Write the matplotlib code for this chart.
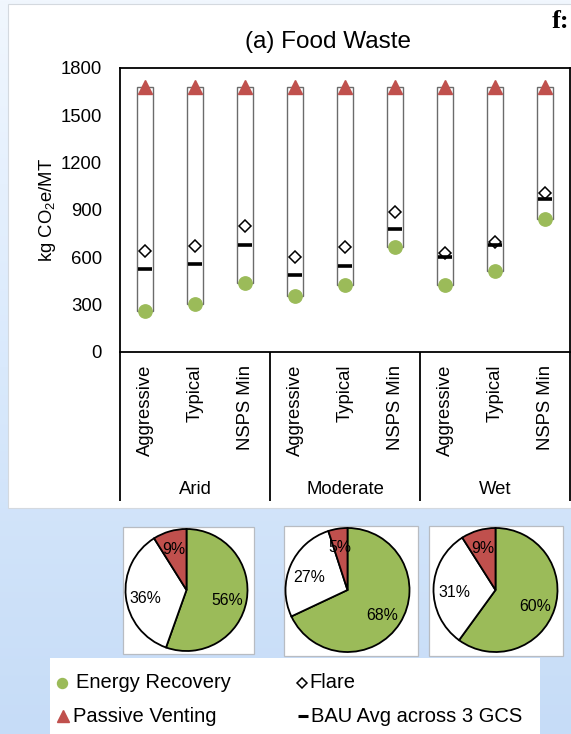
import numpy as np
import matplotlib
matplotlib.use("Agg")
import matplotlib.pyplot as plt
from matplotlib.patches import Rectangle
from matplotlib.colors import LinearSegmentedColormap
from matplotlib.transforms import blended_transform_factory

plt.rcParams['font.family'] = ['Liberation Sans', 'DejaVu Sans']
plt.rcParams['mathtext.fontset'] = 'custom'
plt.rcParams['mathtext.rm'] = 'Liberation Sans'
plt.rcParams['mathtext.it'] = 'Liberation Sans:italic'

# ---- data -------------------------------------------------------------
scenarios = ["Aggressive", "Typical", "NSPS Min"] * 3
climates = ["Arid", "Moderate", "Wet"]
energy_recovery = [260, 305, 440, 355, 425, 665, 425, 515, 845]
flare = [640, 675, 800, 605, 665, 885, 630, 700, 1005]
passive_venting = [1680, 1680, 1680, 1680, 1680, 1680, 1680, 1680, 1680]
bau_avg = [525, 560, 680, 485, 545, 780, 600, 678, 968]
y_ticks = [0, 300, 600, 900, 1200, 1500, 1800]

# share of gas-collection outcome per climate: energy recovery, flare, venting
pie_arid = [56, 36, 9]
pie_moderate = [68, 27, 5]
pie_wet = [60, 31, 9]

GREEN = '#9BBB59'
RED = '#C0504D'

W, H = 571, 734
fig = plt.figure(figsize=(W / 100, H / 100), dpi=100)


def fbox(x0, y0, x1, y1):
    """Pixel box (top-left origin) -> figure rect."""
    return [x0 / W, 1 - y1 / H, (x1 - x0) / W, (y1 - y0) / H]


# ---- background: soft blue gradient with white panels -------------------
bg = fig.add_axes([0, 0, 1, 1])
bg.set_xlim(0, W)
bg.set_ylim(H, 0)
bg.axis('off')
grad = LinearSegmentedColormap.from_list('bgblue', ['#f1f7fe', '#d9e9fc', '#c6dcf7'])
bg.imshow(np.linspace(0, 1, 256).reshape(-1, 1), cmap=grad, aspect='auto',
          extent=(0, W, H, 0), zorder=0)
bg.add_patch(Rectangle((8, 4), W - 8, 504, facecolor='white',
                       edgecolor='#d4d9df', lw=0.8, zorder=1))
for (x0, y0, x1, y1) in [(122.5, 527, 253.5, 654), (283.5, 526, 417.5, 656),
                         (428.5, 526, 562.5, 656)]:
    bg.add_patch(Rectangle((x0, y0), x1 - x0, y1 - y0, facecolor='white',
                           edgecolor='#b8bcc2', lw=0.9, zorder=1))
bg.add_patch(Rectangle((50, 658), 490, 90, facecolor='white',
                       edgecolor='none', zorder=1))

# ---- main range chart --------------------------------------------------
ax = fig.add_axes(fbox(120, 68, 570, 352))
x = np.arange(len(scenarios))
er = np.array(energy_recovery)
pv = np.array(passive_venting)

ax.bar(x, pv - er, bottom=er, width=0.33, color='white',
       edgecolor='#6b6b6b', linewidth=1.0, zorder=2)
ax.plot(x, flare, ls='none', marker='D', ms=6.2, mfc='white', mec='black',
        mew=1.1, zorder=3)
ax.plot(x, bau_avg, ls='none', marker='_', ms=9.4, mew=2.6, color='black',
        zorder=4)
ax.plot(x, energy_recovery, ls='none', marker='o', ms=9.6, color=GREEN,
        zorder=5)
ax.plot(x, passive_venting, ls='none', marker='^', ms=9.6, color=RED,
        zorder=5, clip_on=False)

ax.set_xlim(-0.5, len(scenarios) - 0.5)
ax.set_ylim(0, 1800)
ax.set_yticks(y_ticks)
ax.tick_params(axis='y', length=0, pad=13, labelsize=13.3)
ax.set_xticks(x)
ax.set_xticklabels(scenarios, rotation=90, fontsize=13.3)
ax.tick_params(axis='x', length=0, pad=9)
for s in ax.spines.values():
    s.set_linewidth(1.3)
ax.set_ylabel("kg CO$_2$e/MT", fontsize=13.3, labelpad=2)

# category / climate grid below the axis
trans = blended_transform_factory(ax.transData, ax.transAxes)
y_low = -(501 - 352) / 284
for xs in [-0.5, 2.5, 5.5, 8.5]:
    ax.plot([xs, xs], [0, y_low], transform=trans, color='black', lw=1.3,
            clip_on=False, solid_capstyle='butt')
for i, name in enumerate(climates):
    ax.text(3 * i + 1, -(490 - 352) / 284, name, transform=trans,
            ha='center', va='center', fontsize=13.3)

fig.text(328 / W, 1 - 42 / H, "(a) Food Waste", ha='center', va='center',
         fontsize=17.5)
fig.text(552 / W, 1 - 28 / H, "f:", ha='left', va='baseline',
         family='Liberation Serif', fontsize=19, weight='bold')

# ---- pie charts ---------------------------------------------------------
pie_centres = [(186.5, 590, 61), (347.5, 590, 62), (495.5, 590, 62)]
for shares, (cx, cy, r) in zip([pie_arid, pie_moderate, pie_wet], pie_centres):
    rr = r * 1.03
    pax = fig.add_axes(fbox(cx - rr, cy - rr, cx + rr, cy + rr))
    wedges, _ = pax.pie(shares, colors=[GREEN, 'white', RED], startangle=90,
                        counterclock=False,
                        wedgeprops=dict(edgecolor='black', linewidth=1.3))
    pax.set_xlim(-1.03, 1.03)
    pax.set_ylim(-1.03, 1.03)
    pax.set_aspect('equal')
    for w, v in zip(wedges, shares):
        theta = np.deg2rad((w.theta1 + w.theta2) / 2)
        d = 0.76 if v < 10 else 0.67
        pax.text(d * np.cos(theta), d * np.sin(theta) - 0.06, f"{v}%",
                 ha='center', va='center', fontsize=11.4)

# ---- legend -------------------------------------------------------------
leg_fs = 14.5
row1, row2 = 683, 716
bg.plot(62, row1, ls='none', marker='o', ms=7.2, color=GREEN, zorder=3)
bg.text(76, row1, "Energy Recovery", va='center', fontsize=leg_fs, zorder=3)
bg.plot(62.5, row2, ls='none', marker='^', ms=8.2, color=RED, zorder=3)
bg.text(73, row2, "Passive Venting", va='center', fontsize=leg_fs, zorder=3)
bg.plot(302, row1, ls='none', marker='D', ms=5.2, mfc='white', mec='black',
        mew=1.1, zorder=3)
bg.text(309, row1, "Flare", va='center', fontsize=leg_fs, zorder=3)
bg.plot(303, row2, ls='none', marker='_', ms=7, mew=2.2, color='black',
        zorder=3)
bg.text(311, row2, "BAU Avg across 3 GCS", va='center', fontsize=leg_fs,
        zorder=3)

fig.savefig("out.png", dpi=100)
